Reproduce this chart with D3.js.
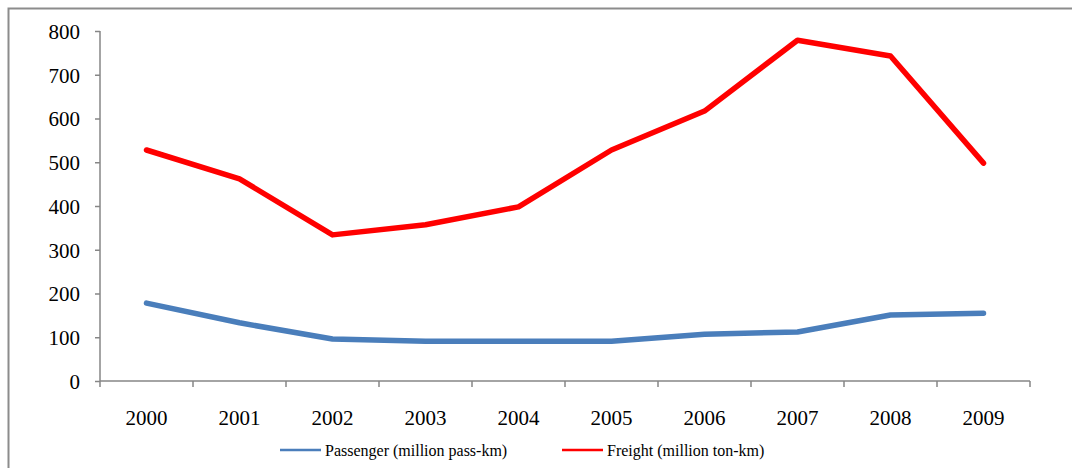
<!DOCTYPE html>
<html>
<head>
<meta charset="utf-8">
<script src="https://cdn.jsdelivr.net/npm/d3@7"></script>
<style>
  body { margin: 0; background: #fff; }
  svg { display: block; font-family: "Liberation Serif", "Times New Roman", serif; }
  .axis path, .axis line { stroke: #868686; stroke-width: 1.5; }
  .axis text { font-family: "Liberation Serif", "Times New Roman", serif; font-size: 21px; fill: #000; }
</style>
</head>
<body>
<svg id="chart" width="1072" height="468"></svg>
<script>
// data
let years = ["2000", "2001", "2002", "2003", "2004", "2005", "2006", "2007", "2008", "2009"];
let passenger = [178, 133, 96, 91, 91, 91, 107, 112, 151, 155];
let freight = [528, 462, 334, 357, 398, 528, 617, 779, 743, 498];
let yTicks = [0, 100, 200, 300, 400, 500, 600, 700, 800];

let chart = d3.select("#chart");

// outer frame (top and left edge only visible)
chart.append("path")
    .attr("d", "M8.5,468 L8.5,8.5 L1072,8.5")
    .attr("fill", "none")
    .attr("stroke", "#8c8c8c")
    .attr("stroke-width", 2);

// x position scale
let x = d3.scaleBand()
    .domain(years)
    .range([100, 1030]);

// y position scale
let y = d3.scaleLinear()
    .domain([0, 800])
    .range([381, 31]);

// y axis
let yAxis = d3.axisLeft(y)
    .tickValues(yTicks)
    .tickSize(5)
    .tickPadding(15);
chart.append("g")
    .attr("class", "axis")
    .attr("transform", "translate(100,0)")
    .call(yAxis)
    .call(g => g.select(".domain").attr("d", "M0,31V381"))
    .selectAll("text").attr("dy", "0.35em");

// x axis, ticks sit between categories
let xAxis = d3.axisBottom(x).tickSize(0).tickPadding(29);
let xg = chart.append("g")
    .attr("class", "axis")
    .attr("transform", "translate(0,381)")
    .call(xAxis);
xg.select(".domain").attr("d", "M100,0H1030");
xg.selectAll(".sep")
    .data(years.concat(["end"]))
    .enter().append("line")
    .attr("class", "sep")
    .attr("x1", (d, i) => 100 + i * x.step())
    .attr("x2", (d, i) => 100 + i * x.step())
    .attr("y1", 0)
    .attr("y2", 6);

// lines
let line = d3.line()
    .x((d, i) => x(years[i]) + x.bandwidth() / 2)
    .y(d => y(d));

chart.append("path")
    .datum(passenger)
    .attr("fill", "none")
    .attr("stroke", "#4a7ebb")
    .attr("stroke-width", 5.5)
    .attr("stroke-linecap", "round")
    .attr("stroke-linejoin", "round")
    .attr("d", line);

chart.append("path")
    .datum(freight)
    .attr("fill", "none")
    .attr("stroke", "#ff0000")
    .attr("stroke-width", 5.5)
    .attr("stroke-linecap", "round")
    .attr("stroke-linejoin", "round")
    .attr("d", line);

// LEGEND
let legend = [
    {name: "Passenger (million pass-km)", color: "#4a7ebb", x: 280},
    {name: "Freight (million ton-km)", color: "#ff0000", x: 562}
];
let lg = chart.selectAll(".legend")
    .data(legend)
    .enter().append("g")
    .attr("class", "legend")
    .attr("transform", d => "translate(" + d.x + ",450)");
lg.append("line")
    .attr("x1", 0).attr("x2", 41)
    .attr("stroke", d => d.color)
    .attr("stroke-width", 2.5);
lg.append("text")
    .text(d => d.name)
    .attr("x", 45)
    .attr("dy", "0.35em")
    .style("font-size", "16px");
</script>
</body>
</html>
